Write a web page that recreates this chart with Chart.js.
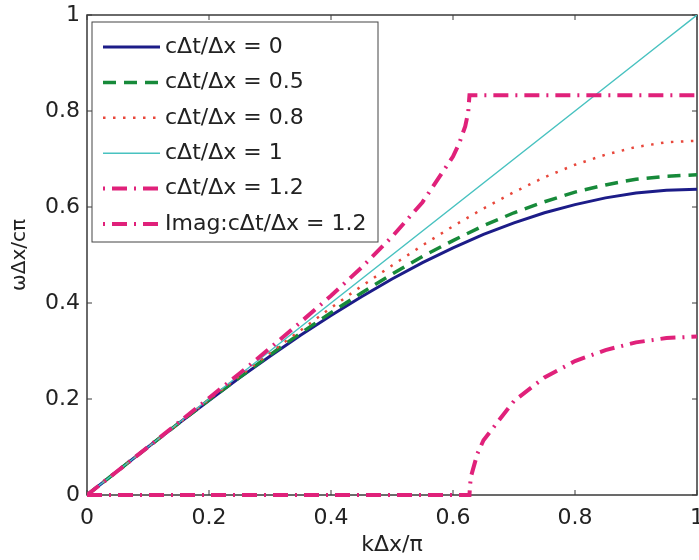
<!DOCTYPE html>
<html>
<head>
<meta charset="utf-8">
<script src="https://cdn.jsdelivr.net/npm/chart.js@4.4.1/dist/chart.umd.min.js"></script>
<style>
  body { margin: 0; background: #fff; }
</style>
</head>
<body>
<canvas id="dispersion" width="699" height="560"></canvas>
<script>
// kΔx/π sample points, shared by the first four curves
const kVals = [0, 0.05, 0.1, 0.15, 0.2, 0.25, 0.3, 0.35, 0.4, 0.45, 0.5, 0.55, 0.6, 0.65, 0.7, 0.75, 0.8, 0.85, 0.9, 0.95, 1];
const s0  = [0, 0.050, 0.100, 0.149, 0.197, 0.244, 0.289, 0.333, 0.374, 0.413, 0.450, 0.484, 0.515, 0.543, 0.567, 0.588, 0.605, 0.619, 0.629, 0.635, 0.637];
const s05 = [0, 0.050, 0.100, 0.149, 0.198, 0.245, 0.292, 0.337, 0.380, 0.421, 0.460, 0.497, 0.530, 0.561, 0.588, 0.611, 0.631, 0.646, 0.658, 0.664, 0.667];
const s08 = [0, 0.050, 0.100, 0.149, 0.199, 0.248, 0.296, 0.343, 0.390, 0.435, 0.478, 0.520, 0.560, 0.597, 0.631, 0.662, 0.688, 0.709, 0.725, 0.735, 0.738];
const s1  = [0, 0.05, 0.1, 0.15, 0.2, 0.25, 0.3, 0.35, 0.4, 0.45, 0.5, 0.55, 0.6, 0.65, 0.7, 0.75, 0.8, 0.85, 0.9, 0.95, 1];

// cΔt/Δx = 1.2, real part (flat after the cutoff)
const k12 = [0, 0.05, 0.1, 0.15, 0.2, 0.25, 0.3, 0.35, 0.4, 0.45, 0.5, 0.55, 0.6, 0.61, 0.62, 0.625, 0.627, 0.7, 0.8, 0.9, 1];
const s12 = [0, 0.050, 0.100, 0.151, 0.202, 0.253, 0.306, 0.360, 0.415, 0.474, 0.538, 0.610, 0.705, 0.732, 0.768, 0.798, 0.833, 0.833, 0.833, 0.833, 0.833];

// cΔt/Δx = 1.2, imaginary part
const kImag  = [0, 0.627, 0.628, 0.63, 0.64, 0.65, 0.7, 0.75, 0.8, 0.85, 0.9, 0.95, 1];
const imag12 = [0, 0, 0.022, 0.041, 0.086, 0.114, 0.196, 0.245, 0.279, 0.302, 0.318, 0.327, 0.330];

const seriesLabels = ['cΔt/Δx = 0', 'cΔt/Δx = 0.5', 'cΔt/Δx = 0.8', 'cΔt/Δx = 1', 'cΔt/Δx = 1.2', 'Imag:cΔt/Δx = 1.2'];
const tickVals = [0, 0.2, 0.4, 0.6, 0.8, 1];
const tickLabels = ['0', '0.2', '0.4', '0.6', '0.8', '1'];

const FONT = 'DejaVu Sans';
const MAGENTA = '#e0217a';

function pts(xs, ys) {
  return xs.map((x, i) => ({ x: x, y: ys[i] }));
}

const datasets = [
  { label: seriesLabels[0], data: pts(kVals, s0), borderColor: '#1c1c88', borderWidth: 3, borderDash: [], order: 6 },
  { label: seriesLabels[1], data: pts(kVals, s05), borderColor: '#178a3a', borderWidth: 3.5, borderDash: [13, 8], order: 5 },
  { label: seriesLabels[2], data: pts(kVals, s08), borderColor: '#e8473b', borderWidth: 2.5, borderDash: [2.5, 7.5], order: 4 },
  { label: seriesLabels[3], data: pts(kVals, s1), borderColor: '#48c2c0', borderWidth: 1.5, borderDash: [], order: 3 },
  { label: seriesLabels[4], data: pts(k12, s12), borderColor: MAGENTA, borderWidth: 4, borderDash: [15, 7, 2, 7], order: 2 },
  { label: seriesLabels[5], data: pts(kImag, imag12), borderColor: MAGENTA, borderWidth: 4, borderDash: [15, 7, 2, 7], order: 1, clip: false }
];
datasets.forEach(d => {
  d.pointRadius = 0;
  d.tension = 0;
  d.fill = false;
  d.borderCapStyle = 'butt';
});

// box round the axes with inward ticks on all four sides
const framePlugin = {
  id: 'frame',
  beforeDatasetsDraw(chart) {
    const { ctx, chartArea: a, scales: { x, y } } = chart;
    ctx.save();
    ctx.strokeStyle = '#3a3a3a';
    ctx.lineWidth = 1.5;
    ctx.strokeRect(a.left, a.top, a.right - a.left, a.bottom - a.top);
    ctx.lineWidth = 1;
    ctx.beginPath();
    for (const v of tickVals) {
      const px = x.getPixelForValue(v);
      const py = y.getPixelForValue(v);
      ctx.moveTo(px, a.bottom); ctx.lineTo(px, a.bottom - 5);
      ctx.moveTo(px, a.top); ctx.lineTo(px, a.top + 5);
      ctx.moveTo(a.left, py); ctx.lineTo(a.left + 5, py);
      ctx.moveTo(a.right, py); ctx.lineTo(a.right - 5, py);
    }
    ctx.stroke();
    ctx.restore();
  }
};

// matlab-style legend box in the top left corner
const legendPlugin = {
  id: 'boxLegend',
  afterDatasetsDraw(chart) {
    const ctx = chart.ctx;
    const box = { left: 92, top: 22, width: 286, height: 220 };
    const rowH = 35.4;
    ctx.save();
    ctx.fillStyle = '#fff';
    ctx.fillRect(box.left, box.top, box.width, box.height);
    ctx.strokeStyle = '#444';
    ctx.lineWidth = 1;
    ctx.strokeRect(box.left, box.top, box.width, box.height);
    chart.data.datasets.forEach((d, i) => {
      const yy = box.top + 25 + i * rowH;
      ctx.strokeStyle = d.borderColor;
      ctx.lineWidth = d.borderWidth;
      ctx.setLineDash(d.borderDash);
      ctx.lineDashOffset = d.borderDash.length === 4 ? 22 : 0;
      ctx.beginPath();
      ctx.moveTo(103, yy);
      ctx.lineTo(160, yy);
      ctx.stroke();
      ctx.setLineDash([]);
      ctx.fillStyle = '#222';
      ctx.font = '22px "' + FONT + '"';
      ctx.textBaseline = 'middle';
      ctx.textAlign = 'left';
      ctx.fillText(d.label, 165, yy);
    });
    ctx.restore();
  }
};

function setTicks(scale) {
  scale.ticks = tickVals.map(v => ({ value: v }));
}

new Chart(document.getElementById('dispersion'), {
  type: 'line',
  data: { datasets },
  options: {
    responsive: false,
    animation: false,
    layout: { padding: { top: 15, right: 2, left: 0, bottom: 0 } },
    plugins: { legend: { display: false }, tooltip: { enabled: false } },
    scales: {
      x: {
        type: 'linear', min: 0, max: 1,
        grid: { display: false, drawTicks: false },
        border: { display: false },
        afterBuildTicks: setTicks,
        ticks: {
          padding: 10, color: '#222', maxRotation: 0,
          font: { family: FONT, size: 22 },
          callback: (v) => tickLabels[tickVals.indexOf(+v.toFixed(1))]
        },
        title: { display: true, text: 'kΔx/π', color: '#222', font: { family: FONT, size: 22 }, padding: { top: 0, bottom: 2 } },
        afterFit(s) { s.height = 65; s.paddingLeft = 0; s.paddingRight = 0; }
      },
      y: {
        type: 'linear', min: 0, max: 1,
        grid: { display: false, drawTicks: false },
        border: { display: false },
        afterBuildTicks: setTicks,
        ticks: {
          padding: 7, color: '#222',
          font: { family: FONT, size: 22 },
          callback: (v) => tickLabels[tickVals.indexOf(+v.toFixed(1))]
        },
        title: { display: true, text: 'ωΔx/cπ', color: '#222', font: { family: FONT, size: 20 }, padding: { top: 8, bottom: 0 } },
        afterFit(s) { s.width = 87; s.paddingTop = 0; s.paddingBottom = 0; }
      }
    }
  },
  plugins: [framePlugin, legendPlugin]
});
</script>
</body>
</html>
